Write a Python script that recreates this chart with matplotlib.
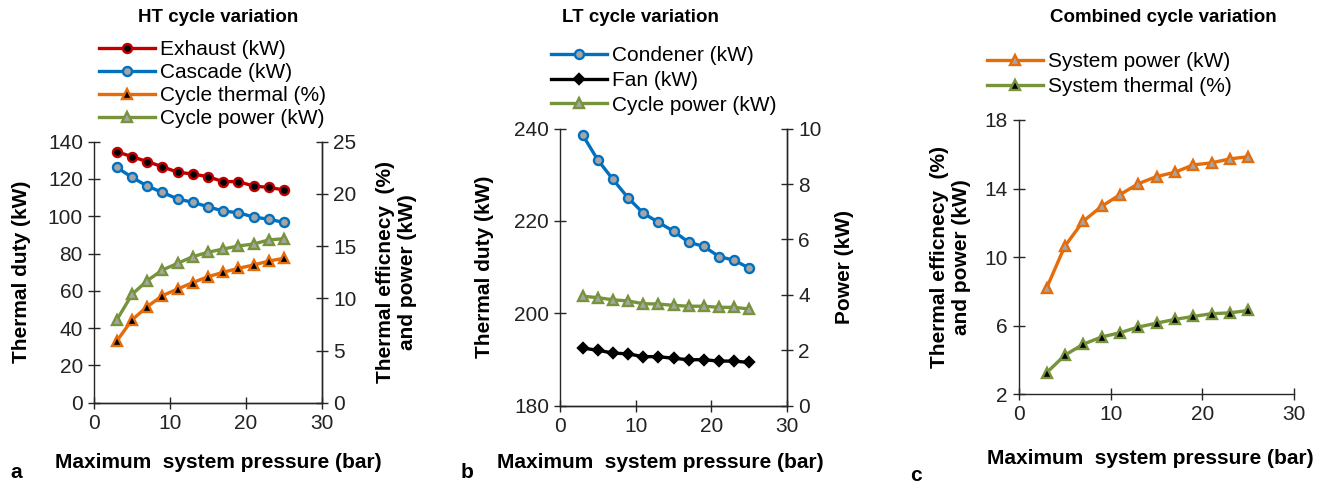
import matplotlib
matplotlib.use("Agg")
import matplotlib.pyplot as plt

plt.rcParams['font.family'] = ['Liberation Sans', 'DejaVu Sans']

# pressure (bar)
pressure = [3, 5, 7, 9, 11, 13, 15, 17, 19, 21, 23, 25]

# HT cycle
ht_exhaust = [134.6, 132.0, 129.3, 126.6, 123.6, 122.7, 121.2, 118.6, 118.6, 116.2, 115.5, 114.1]
ht_cascade = [126.2, 120.9, 116.2, 112.8, 109.3, 107.5, 105.1, 102.8, 101.9, 99.6, 98.4, 96.7]
ht_thermal = [5.91, 7.93, 9.20, 10.25, 10.89, 11.50, 12.07, 12.49, 12.87, 13.19, 13.57, 13.83]
ht_power = [7.93, 10.37, 11.69, 12.71, 13.35, 13.99, 14.41, 14.72, 15.01, 15.20, 15.59, 15.71]

# LT cycle
lt_condenser = [238.6, 233.2, 229.0, 225.0, 221.7, 219.7, 217.8, 215.4, 214.5, 212.3, 211.5, 209.8]
lt_fan = [2.08, 2.00, 1.90, 1.87, 1.77, 1.77, 1.71, 1.66, 1.66, 1.61, 1.61, 1.56]
lt_power = [3.95, 3.90, 3.82, 3.78, 3.68, 3.67, 3.62, 3.59, 3.59, 3.55, 3.55, 3.49]

# combined
sys_power = [8.18, 10.64, 12.09, 12.96, 13.64, 14.28, 14.70, 14.95, 15.38, 15.50, 15.73, 15.86]
sys_thermal = [3.25, 4.28, 4.92, 5.34, 5.59, 5.92, 6.15, 6.37, 6.54, 6.70, 6.75, 6.89]

RED = '#C00000'
BLUE = '#0070C0'
ORANGE = '#E46C0A'
GREEN = '#77933C'
GREY = '#A5A5A5'
AXC = '#262626'

W, H = 1326, 486
fig = plt.figure(figsize=(W / 100, H / 100), dpi=100)


def fx(px):
    return px / W


def fy(py):
    return 1 - py / H


def style(ax, right=False):
    ax.spines['top'].set_visible(False)
    if not right:
        ax.spines['right'].set_visible(False)
    for s in ax.spines.values():
        s.set_color(AXC)
        s.set_linewidth(1.0)
    ax.tick_params(direction='inout', length=9, width=1.0, colors=AXC,
                   labelsize=15, labelcolor='#222222')


def line(ax, y, color, marker, face, ms=6.5):
    return ax.plot(pressure, y, color=color, lw=2.4, marker=marker, ms=ms,
                   mfc=face, mec=color, mew=1.7)[0]


lab_kw = dict(fontsize=15, fontweight='bold', color='black')
eff_label = 'Thermal efficnecy  (%)\nand power (kW)'
leg_kw = dict(loc='upper left', frameon=False, fontsize=15, borderpad=0,
              borderaxespad=0, handlelength=2.7, handletextpad=0.25,
              labelspacing=0.18)

# ---- panel a
ax = fig.add_axes([fx(94), fy(402.7), fx(322 - 94), (402.7 - 141.7) / H])
ax2 = ax.twinx()
style(ax, right=True)
style(ax2, right=True)
ax2.spines['left'].set_visible(False)
h1 = line(ax, ht_exhaust, RED, 'o', 'black')
h2 = line(ax, ht_cascade, BLUE, 'o', GREY)
h3 = line(ax2, ht_thermal, ORANGE, '^', 'black')
h4 = line(ax2, ht_power, GREEN, '^', GREY)
ax.set_xlim(0, 30)
ax.set_xticks([0, 10, 20, 30])
ax.set_ylim(0, 140)
ax.set_yticks(range(0, 141, 20))
ax2.set_ylim(0, 25)
ax2.set_yticks(range(0, 26, 5))
ax.set_ylabel('Thermal duty (kW)', labelpad=12, **lab_kw)
ax2.set_ylabel(eff_label, labelpad=14, rotation=90, **lab_kw)
fig.legend([h1, h2, h3, h4],
           ['Exhaust (kW)', 'Cascade (kW)', 'Cycle thermal (%)', 'Cycle power (kW)'],
           bbox_to_anchor=(fx(99), fy(40)), **dict(leg_kw, labelspacing=0.2))

# ---- panel b
bx = fig.add_axes([fx(560), fy(405.7), fx(787 - 560), (405.7 - 128.6) / H])
bx2 = bx.twinx()
style(bx, right=True)
style(bx2, right=True)
bx2.spines['left'].set_visible(False)
g1 = line(bx, lt_condenser, BLUE, 'o', GREY)
g2 = line(bx2, lt_fan, 'black', 'D', 'black', ms=5.5)
g3 = line(bx2, lt_power, GREEN, '^', GREY)
bx.set_xlim(0, 30)
bx.set_xticks([0, 10, 20, 30])
bx.set_ylim(180, 240)
bx.set_yticks([180, 200, 220, 240])
bx2.set_ylim(0, 10)
bx2.set_yticks(range(0, 11, 2))
bx.set_ylabel('Thermal duty (kW)', labelpad=14, **lab_kw)
bx2.set_ylabel('Power (kW)', labelpad=10, **lab_kw)
fig.legend([g1, g2, g3], ['Condener (kW)', 'Fan (kW)', 'Cycle power (kW)'],
           bbox_to_anchor=(fx(551), fy(46)), **dict(leg_kw, labelspacing=0.28))

# ---- panel c
cx = fig.add_axes([fx(1019), fy(394.3), fx(1294 - 1019), (394.3 - 120) / H])
style(cx)
k1 = line(cx, sys_power, ORANGE, '^', GREY)
k2 = line(cx, sys_thermal, GREEN, '^', 'black')
cx.set_xlim(0, 30)
cx.set_xticks([0, 10, 20, 30])
cx.set_ylim(2, 18)
cx.set_yticks([2, 6, 10, 14, 18])
cx.set_ylabel(eff_label, labelpad=10, **lab_kw)
fig.legend([k1, k2], ['System power (kW)', 'System thermal (%)'],
           bbox_to_anchor=(fx(987), fy(52)), **dict(leg_kw, labelspacing=0.28))

# titles, x labels, panel letters
title_kw = dict(fontsize=13.5, fontweight='bold', ha='center', va='center')
fig.text(fx(218), fy(18), 'HT cycle variation', **title_kw)
fig.text(fx(640), fy(18), 'LT cycle variation', **title_kw)
fig.text(fx(1163), fy(18), 'Combined cycle variation', **title_kw)

xl = 'Maximum  system pressure (bar)'
fig.text(fx(218), fy(462), xl, ha='center', va='center', **lab_kw)
fig.text(fx(660), fy(462), xl, ha='center', va='center', **lab_kw)
fig.text(fx(1150), fy(458), xl, ha='center', va='center', **lab_kw)
fig.text(fx(16), fy(472), 'a', ha='center', va='center', **lab_kw)
fig.text(fx(467), fy(472), 'b', ha='center', va='center', **lab_kw)
fig.text(fx(916), fy(475), 'c', ha='center', va='center', **lab_kw)

fig.savefig('out.png', dpi=100)
